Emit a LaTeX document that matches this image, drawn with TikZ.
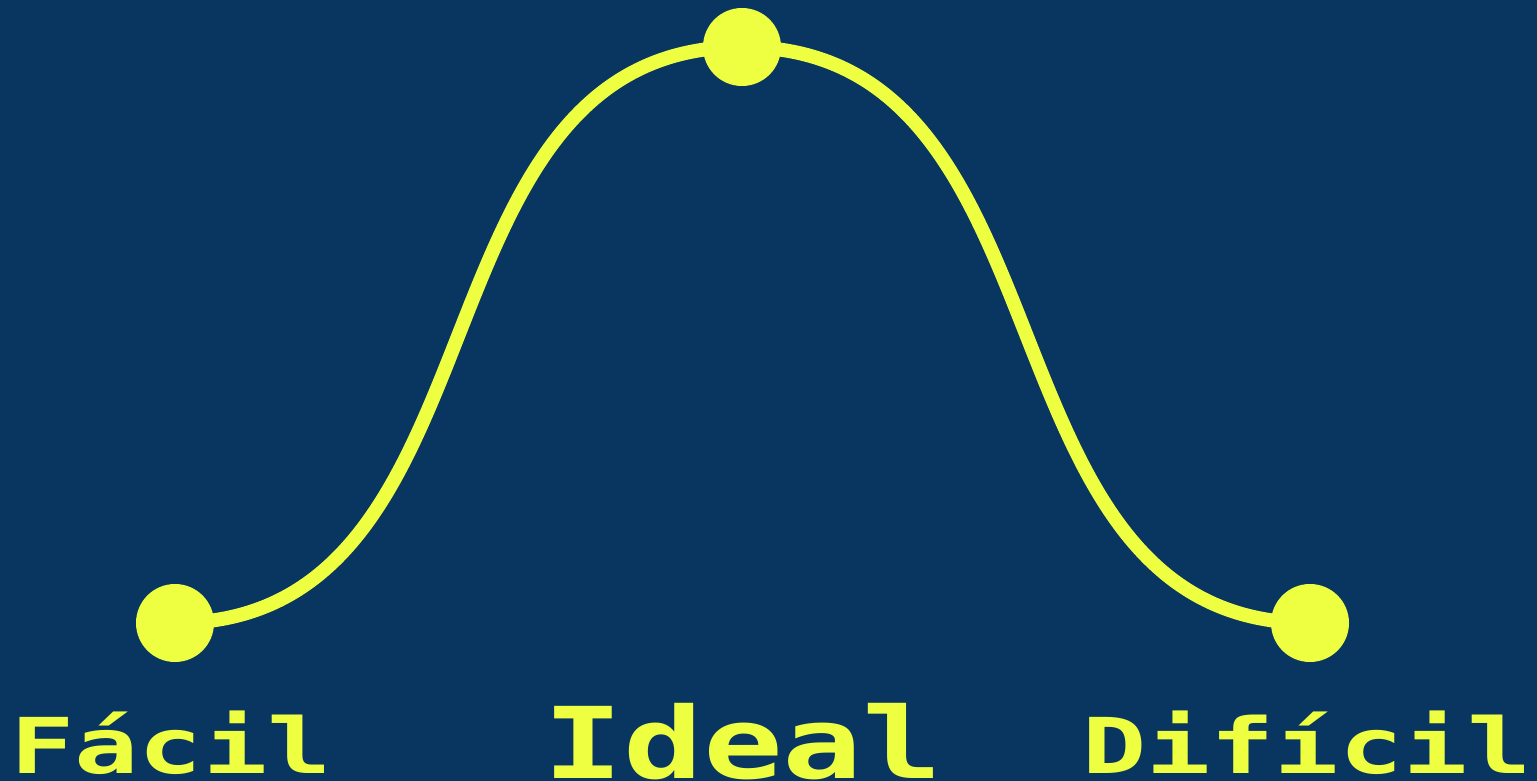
\documentclass[tikz,border=0pt]{standalone}
\usepackage{fontspec}
\newfontfamily\pixfont{DejaVu Sans Mono}[BoldFont={DejaVu Sans Mono Bold}]
\definecolor{bgblue}{HTML}{083661}
\definecolor{ylw}{HTML}{EEFF41}
\tikzset{
  dotnode/.style={circle, fill=ylw, draw=none, minimum size=78pt, inner sep=0pt},
  curveline/.style={draw=ylw, line width=14pt},
  smalllabel/.style={anchor=base, text=ylw, inner sep=0pt, text depth=0pt, font=\pixfont\bfseries\fontsize{77}{77}\selectfont},
  biglabel/.style={anchor=base, text=ylw, inner sep=0pt, text depth=0pt, font=\pixfont\bfseries\fontsize{99}{99}\selectfont}
}
\begin{document}
\begin{tikzpicture}[x=1pt,y=-1pt]
\fill[bgblue] (0,0) rectangle (1537,781);
\useasboundingbox (0,0) rectangle (1537,781);
\coordinate (lc) at (175,623);
\coordinate (tc) at (742,47);
\coordinate (rc) at (1310,623);
\draw[curveline] (lc) .. controls (515,623) and (402,47) .. (tc)
  .. controls (1083,47) and (970,623) .. (rc);
\node[dotnode] (left) at (lc) {};
\node[dotnode] (top) at (tc) {};
\node[dotnode] (right) at (rc) {};
\node[smalllabel] (facil) at (171,773) {\scalebox{1.385}[1]{Fácil}};
\node[biglabel] (ideal) at (743,778) {\scalebox{1.34}[1]{Ideal}};
\node[smalllabel] (dificil) at (1307,773) {\scalebox{1.385}[1]{Difícil}};
\end{tikzpicture}
\end{document}
